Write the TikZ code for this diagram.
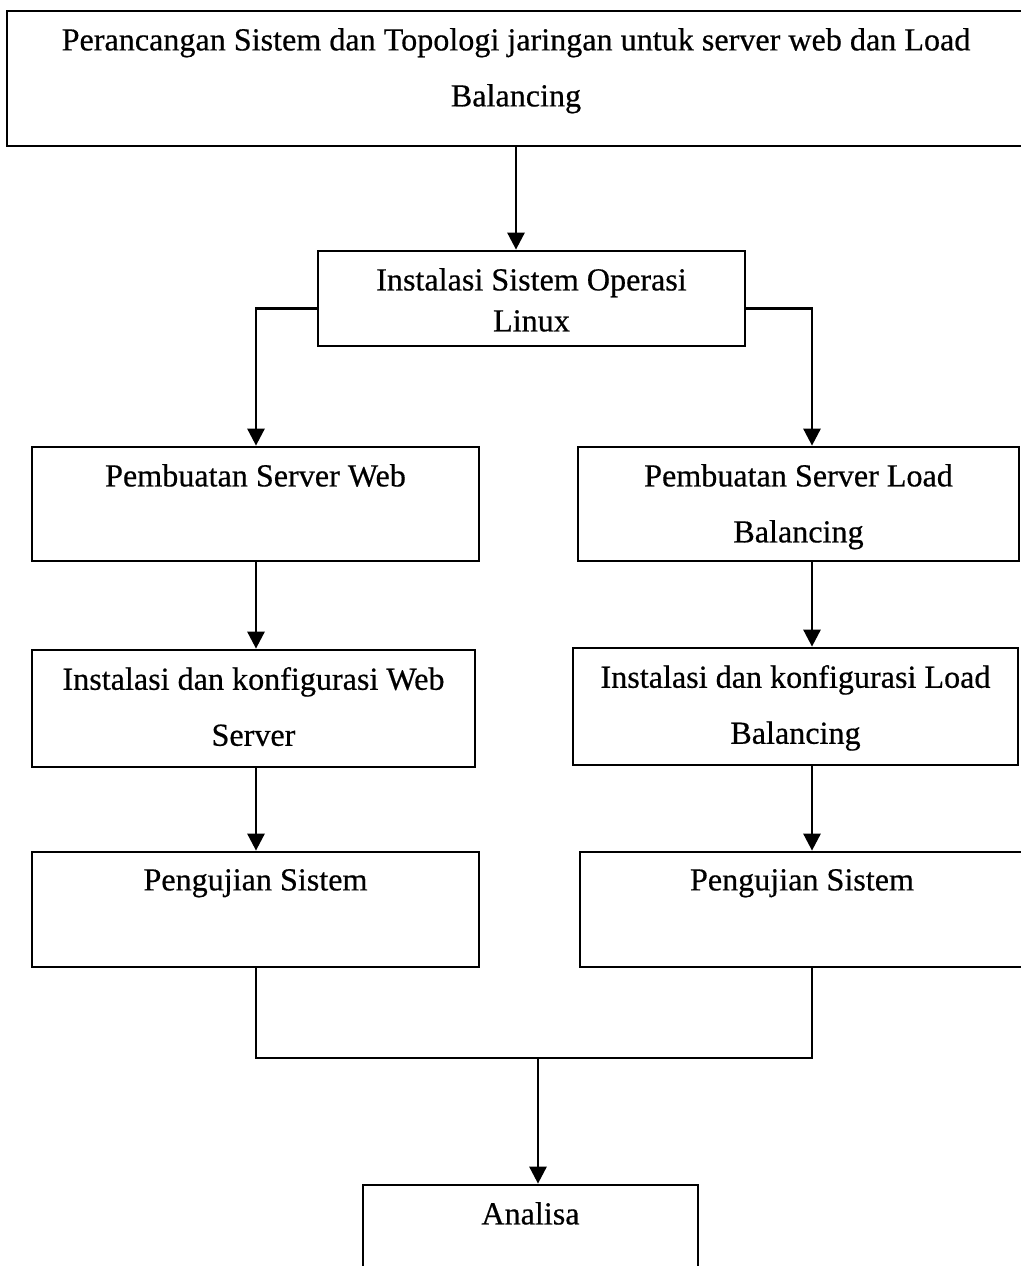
\documentclass[tikz,border=0pt]{standalone}
\usepackage{fontspec}
\setmainfont{Liberation Serif}[FakeBold=0.5]
\usetikzlibrary{positioning,arrows.meta}

\begin{document}
\begin{tikzpicture}[
    x=0.4pt, y=-0.4pt,
    node distance=7.2pt,
    box/.style={draw, line width=1.1pt, inner sep=0pt},
    txt/.style={inner sep=0pt, align=center, font=\fontsize{12.85}{22.4}\selectfont},
    arrow/.style={-{Triangle[width=6.8pt,length=6.8pt]}, line width=1.1pt},
    link/.style={line width=1.1pt},
]
\useasboundingbox (0,0) rectangle (1020,1266);

% === Row 0: design -> OS install ===
\node[box, minimum width=407.2pt, minimum height=54pt] (design) at (516,78.5) {};
\node[txt, below=of design.north] (designtxt) {Perancangan Sistem dan Topologi jaringan untuk server web dan Load\\Balancing};
\node[box, minimum width=170.8pt, minimum height=38pt] (os) at (531.5,298.5) {};
\node[txt, font=\fontsize{12.85}{16.4}\selectfont, below=of os.north] (ostxt) {Instalasi Sistem Operasi\\Linux};
\draw[arrow] (design.south) -- (design.south |- os.north);

% column guides
\coordinate (lcol) at (256,0);
\coordinate (rcol) at (812,0);
\coordinate (merge) at (538,1058);

% === Row 1: server nodes ===
\node[box, minimum width=178.8pt, minimum height=45.6pt] (web) at (255.5,504) {};
\node[txt, below=of web.north] (webtxt) {Pembuatan Server Web};
\node[box, minimum width=176.4pt, minimum height=45.6pt] (lb) at (798.5,504) {};
\node[txt, below=of lb.north] (lbtxt) {Pembuatan Server Load\\Balancing};
\draw[arrow] ([yshift=-4pt]os.west) -| (lcol |- web.north);
\draw[arrow] ([yshift=-4pt]os.east) -| (rcol |- lb.north);

% === Row 2: install and config ===
\node[box, minimum width=177.2pt, minimum height=46.8pt] (instweb) at (253.5,708.5) {};
\node[txt, below=of instweb.north] (instwebtxt) {Instalasi dan konfigurasi Web\\Server};
\node[box, minimum width=178pt, minimum height=46.8pt] (instlb) at (795.5,706.5) {};
\node[txt, below=of instlb.north] (instlbtxt) {Instalasi dan konfigurasi Load\\Balancing};
\draw[arrow] (lcol |- web.south) -- (lcol |- instweb.north);
\draw[arrow] (rcol |- lb.south) -- (rcol |- instlb.north);

% === Row 3: testing ===
\node[box, minimum width=178.8pt, minimum height=46pt] (testweb) at (255.5,909.5) {};
\node[txt, below=of testweb.north] (testwebtxt) {Pengujian Sistem};
\node[box, minimum width=177.6pt, minimum height=46pt] (testlb) at (802,909.5) {};
\node[txt, below=of testlb.north] (testlbtxt) {Pengujian Sistem};
\draw[arrow] (lcol |- instweb.south) -- (lcol |- testweb.north);
\draw[arrow] (rcol |- instlb.south) -- (rcol |- testlb.north);

% === Row 4: merge -> analysis ===
\node[box, minimum width=134pt, minimum height=46pt] (ana) at (530.5,1242.5) {};
\node[txt, below=of ana.north] (anatxt) {Analisa};
\draw[link] (lcol |- testweb.south) -- (lcol |- merge) -- (rcol |- merge) -- (rcol |- testlb.south);
\draw[arrow] (merge) -- (merge |- ana.north);

\end{tikzpicture}
\end{document}
